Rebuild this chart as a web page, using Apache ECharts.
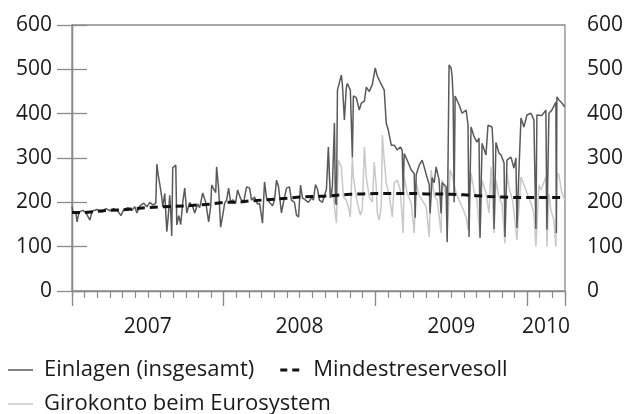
<!DOCTYPE html>
<html>
<head>
<meta charset="utf-8">
<script src="https://cdn.jsdelivr.net/npm/echarts@6/dist/echarts.min.js"></script>
<style>
  html, body { margin: 0; padding: 0; background: #fff; }
  #chart { width: 626px; height: 414px; }
</style>
</head>
<body>
<div id="chart"></div>
<script>
// x-Werte: Monate ab Januar 2007 (0 = 1.1.2007, 39 = Ende März 2010)
const monthTicks = Array.from({ length: 40 }, (_, i) => i);
const yearTicks = [0, 12, 24, 36, 39];
const yearLabelPos = [6, 18, 30, 37.5];
const yearLabels = ['2007', '2008', '2009', '2010'];

// Einlagen (insgesamt), Mrd Euro
const einlagen = [
  [0, 190], [0.08, 178], [0.3, 176], [0.4, 156], [0.55, 178], [0.87, 182], [1.1, 176], [1.42, 160],
  [1.58, 180], [1.97, 184], [2.37, 178], [2.68, 186], [3.0, 181], [3.3, 186], [3.63, 180], [3.87, 170],
  [4.1, 184], [4.42, 188], [4.74, 182], [4.97, 190], [5.13, 176], [5.37, 192], [5.68, 198], [5.92, 190],
  [6.16, 200], [6.39, 194], [6.63, 198], [6.71, 286], [6.83, 260], [6.95, 240], [7.1, 212], [7.18, 190],
  [7.34, 220], [7.5, 134], [7.62, 170], [7.73, 216], [7.81, 180], [7.89, 124], [7.97, 278], [8.21, 284],
  [8.29, 149], [8.45, 170], [8.6, 150], [8.76, 200], [8.92, 232], [9.08, 176], [9.31, 200], [9.55, 190],
  [9.71, 176], [9.94, 196], [10.1, 188], [10.34, 221], [10.58, 200], [10.81, 156], [10.97, 190], [11.05, 239],
  [11.2, 236], [11.37, 222], [11.44, 280], [11.6, 230], [11.76, 144], [11.92, 170], [12.08, 198], [12.23, 205],
  [12.39, 232], [12.55, 200], [12.71, 206], [12.94, 198], [13.1, 228], [13.34, 208], [13.58, 200], [13.81, 235],
  [14.05, 232], [14.2, 205], [14.44, 212], [14.68, 196], [14.84, 198], [15.0, 167], [15.07, 153], [15.23, 246],
  [15.39, 210], [15.63, 200], [15.86, 192], [16.02, 205], [16.18, 250], [16.34, 235], [16.57, 176], [16.73, 200],
  [16.97, 232], [17.2, 235], [17.36, 205], [17.6, 200], [17.76, 171], [17.92, 167], [18.08, 239], [18.23, 210],
  [18.47, 205], [18.71, 200], [18.94, 210], [19.1, 205], [19.26, 240], [19.42, 230], [19.57, 205], [19.81, 200],
  [19.97, 215], [20.13, 230], [20.28, 325], [20.44, 210], [20.6, 235], [20.76, 379], [20.84, 200], [20.92, 194],
  [21.0, 453], [21.15, 470], [21.31, 487], [21.39, 466], [21.55, 386], [21.7, 458], [21.78, 468], [22.02, 453],
  [22.18, 302], [22.26, 440], [22.49, 436], [22.73, 408], [22.89, 424], [23.13, 428], [23.28, 460], [23.52, 450],
  [23.76, 466], [23.99, 503], [24.15, 485], [24.47, 466], [24.7, 453], [24.86, 379], [25.02, 363], [25.26, 329],
  [25.49, 329], [25.73, 318], [25.97, 325], [26.12, 318], [26.2, 221], [26.28, 310], [26.52, 295], [26.84, 273],
  [27.07, 265], [27.15, 165], [27.23, 262], [27.47, 284], [27.7, 295], [27.86, 280], [28.1, 255], [28.26, 240],
  [28.33, 175], [28.49, 256], [28.65, 244], [28.81, 280], [29.04, 250], [29.2, 175], [29.28, 244], [29.6, 235],
  [29.68, 110], [29.83, 510], [29.99, 503], [30.07, 485], [30.15, 437], [30.23, 200], [30.31, 440], [30.62, 420],
  [30.86, 401], [31.18, 408], [31.33, 374], [31.41, 122], [31.57, 370], [31.81, 348], [32.04, 336], [32.2, 345],
  [32.28, 120], [32.44, 333], [32.75, 307], [32.91, 374], [33.23, 370], [33.31, 329], [33.39, 140], [33.54, 335],
  [33.78, 311], [33.94, 307], [34.18, 289], [34.25, 122], [34.41, 295], [34.73, 302], [34.96, 277], [35.12, 300],
  [35.2, 142], [35.36, 273], [35.52, 390], [35.75, 370], [35.99, 397], [36.31, 401], [36.54, 386], [36.7, 140],
  [36.78, 397], [37.17, 396], [37.49, 408], [37.57, 138], [37.73, 401], [37.96, 408], [38.28, 426], [38.32, 131],
  [38.36, 438], [38.52, 431], [38.75, 424], [38.99, 415]
];

// Girokonto beim Eurosystem (vorher deckungsgleich mit den Einlagen)
const girokonto = [
  [20.28, 300], [20.44, 210], [20.6, 230], [20.76, 190], [20.92, 153], [21.07, 295], [21.31, 280], [21.47, 212],
  [21.7, 205], [21.86, 190], [22.02, 167], [22.18, 302], [22.26, 257], [22.49, 212], [22.65, 190], [22.81, 171],
  [22.97, 185], [23.13, 325], [23.28, 257], [23.52, 212], [23.76, 200], [23.91, 291], [24.07, 235], [24.15, 176],
  [24.31, 160], [24.47, 195], [24.55, 352], [24.7, 295], [24.86, 244], [25.1, 215], [25.34, 167], [25.49, 244],
  [25.73, 250], [25.97, 228], [26.2, 131], [26.28, 257], [26.52, 220], [26.84, 198], [27.07, 131], [27.23, 244],
  [27.47, 215], [27.7, 205], [28.02, 190], [28.26, 122], [28.41, 273], [28.65, 215], [28.89, 205], [29.2, 131],
  [29.28, 250], [29.6, 215], [29.68, 122], [29.91, 273], [30.07, 262], [30.39, 221], [30.62, 205], [30.86, 190],
  [31.18, 167], [31.33, 138], [31.57, 266], [31.81, 225], [32.04, 205], [32.28, 120], [32.44, 250], [32.75, 221],
  [32.99, 176], [33.15, 280], [33.39, 131], [33.54, 250], [33.78, 213], [34.02, 195], [34.25, 108], [34.41, 266],
  [34.57, 235], [34.88, 200], [35.2, 115], [35.52, 257], [35.91, 228], [36.31, 198], [36.54, 175], [36.7, 100],
  [36.94, 239], [37.1, 228], [37.49, 257], [37.57, 100], [37.73, 220], [37.88, 183], [38.12, 160], [38.28, 100],
  [38.36, 266], [38.52, 262], [38.75, 221], [38.99, 205]
];

// Mindestreservesoll je Monat
const mindestreserve = [
  177, 180, 182, 183, 186, 188, 190, 191, 192, 194, 196, 200, 200,
  203, 205, 207, 209, 212, 213, 214, 216, 218, 219, 220, 220, 220,
  220, 219, 219, 218, 217, 215, 213, 212, 211, 211, 211, 211, 211
];

const FONT = '"Open Sans", "Noto Sans", sans-serif';
const FS = 21;
const TEXT = '#1a1a1a';
const AXIS = '#8a8a8a';
const DARK = '#5a5a5a';
const LIGHT = '#c8c8c8';

const reserveData = mindestreserve.map((v, i) => [i, v]);
reserveData.push([mindestreserve.length, mindestreserve[mindestreserve.length - 1]]);

const chart = echarts.init(document.getElementById('chart'));

const yAxisBase = {
  type: 'value',
  min: 0,
  max: 600,
  interval: 100,
  axisLine: { show: true, lineStyle: { color: AXIS, width: 1.3 } },
  axisTick: { show: true, length: 15, lineStyle: { color: AXIS, width: 1.3 } },
  splitLine: { show: false },
};

const legendText = { fontSize: 22, fontFamily: FONT, color: TEXT, padding: [0, 0, 0, 6] };
const solidIcon = 'path://M0,0h25v1.5h-25z';
const dashIcon = 'path://M0,0h7v3h-7z M12,0h7v3h-7z';

chart.setOption({
  animation: false,
  grid: {
    left: 72, right: 60, top: 25, bottom: 123,
    show: true, borderColor: AXIS, borderWidth: 1.3
  },
  xAxis: [
    {
      type: 'value', min: 0, max: 39, position: 'bottom',
      axisLine: { show: true, lineStyle: { color: AXIS, width: 1.3 } },
      axisTick: { show: true, length: 7, customValues: monthTicks, lineStyle: { color: AXIS, width: 1.2 } },
      axisLabel: {
        show: true,
        customValues: yearLabelPos,
        formatter: (v) => yearLabels[yearLabelPos.indexOf(v)] || '',
        margin: 26,
        fontSize: FS,
        fontFamily: FONT,
        color: TEXT
      },
      splitLine: { show: false }
    },
    {
      type: 'value', min: 0, max: 39, position: 'bottom',
      axisLine: { show: false },
      axisTick: { show: true, length: 15, customValues: yearTicks, lineStyle: { color: AXIS, width: 1.3 } },
      axisLabel: { show: false },
      splitLine: { show: false }
    }
  ],
  yAxis: [
    Object.assign({}, yAxisBase, {
      position: 'left',
      axisLabel: { margin: 20, fontSize: FS, fontFamily: FONT, color: TEXT }
    }),
    Object.assign({}, yAxisBase, {
      position: 'right',
      axisLabel: { margin: 22, fontSize: FS, fontFamily: FONT, color: TEXT }
    })
  ],
  legend: [
    {
      data: [
        { name: 'Einlagen (insgesamt)', icon: solidIcon },
        { name: 'Mindestreservesoll', icon: dashIcon }
      ],
      left: 8, top: 359, padding: 0,
      itemWidth: 25, itemHeight: 3, itemGap: 26,
      textStyle: legendText
    },
    {
      data: [{ name: 'Girokonto beim Eurosystem', icon: solidIcon }],
      left: 8, top: 393, padding: 0,
      itemWidth: 25, itemHeight: 3,
      textStyle: legendText
    }
  ],
  series: [
    {
      name: 'Girokonto beim Eurosystem',
      type: 'line',
      data: girokonto,
      symbol: 'none',
      silent: true,
      lineStyle: { color: LIGHT, width: 1.5 },
      itemStyle: { color: LIGHT }
    },
    {
      name: 'Einlagen (insgesamt)',
      type: 'line',
      data: einlagen,
      symbol: 'none',
      silent: true,
      lineStyle: { color: DARK, width: 1.5 },
      itemStyle: { color: DARK }
    },
    {
      name: 'Mindestreservesoll',
      type: 'line',
      data: reserveData,
      step: 'end',
      symbol: 'none',
      silent: true,
      lineStyle: { color: '#111', width: 3, type: [8, 5] },
      itemStyle: { color: '#111' }
    }
  ]
});
</script>
</body>
</html>
